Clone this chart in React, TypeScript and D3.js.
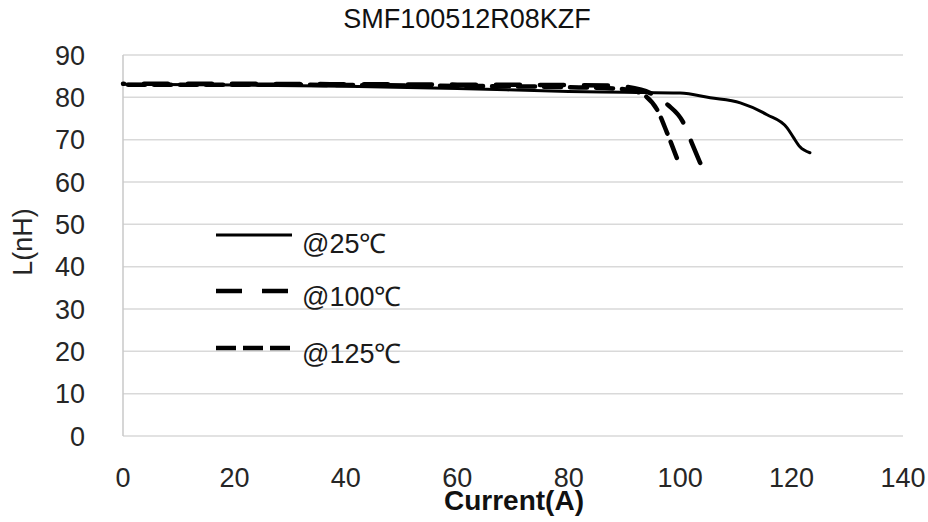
import React, { useEffect, useRef } from "react";
import * as d3 from "d3";

const title = "SMF100512R08KZF";
const xTicks = [0, 20, 40, 60, 80, 100, 120, 140];
const yTicks = [0, 10, 20, 30, 40, 50, 60, 70, 80, 90];

const curve25: [number, number][] = [
  [0, 83.1], [20, 82.9], [40, 82.6], [60, 82.1], [80, 81.4], [90, 81.2], [100, 81.0],
  [105.4, 79.9], [110.8, 78.7], [115.6, 75.9], [119.2, 72.8], [120.3, 70.6],
  [121.5, 68.3], [123.3, 66.9],
];
const curve100: [number, number][] = [
  [0, 83.2], [20, 83.2], [40, 83.1], [60, 83.0], [80, 82.9], [87, 82.8], [93, 81.8],
  [95.5, 80.4], [97.8, 78.2], [100.5, 74.2], [102.1, 69.2], [103.6, 64.5],
];
const curve125: [number, number][] = [
  [0, 83.0], [20, 83.0], [40, 82.9], [60, 82.7], [80, 82.4], [88, 82.1], [92, 81.4],
  [93.7, 80.4], [95.9, 77.0], [97.6, 71.8], [99.4, 65.7],
];

const seriesNames = ["@25℃", "@100℃", "@125℃"];
const seriesDash = [null, [24, 20], [17, 9]];
const legendDash = ["", "26 20", "20 7"];
const seriesWidth = [3, 4.5, 4.5];

const W = 928;
const H = 522;
const left = 123;
const right = 903;
const top = 55;
const bottom = 436;

export default function App() {
  const pathRefs = useRef<(SVGPathElement | null)[]>([]);
  const x = d3.scaleLinear().domain([0, 140]).range([left, right]);
  const y = d3.scaleLinear().domain([0, 90]).range([bottom, top]);
  const line = d3
    .line<[number, number]>()
    .x((d) => x(d[0]))
    .y((d) => y(d[1]))
    .curve(d3.curveMonotoneX);
  const series = [curve25, curve100, curve125];
  const font = "Arial, 'Liberation Sans', sans-serif";
  const legendY = [235, 291, 348];
  const legendTextY = [253, 306, 363];

  useEffect(() => {
    pathRefs.current.forEach((p, i) => {
      const dash = seriesDash[i];
      if (!p || !dash) return;
      const L = p.getTotalLength();
      const P = dash[0] + dash[1];
      const d = (((dash[0] - L) % P) + P) % P;
      p.setAttribute("stroke-dashoffset", String(d));
    });
  }, []);

  return (
    <svg
      width={W}
      height={H}
      style={{ position: "absolute", left: 0, top: 0, background: "#fff" }}
      fontFamily={font}
    >
      <text x={467} y={28} textAnchor="middle" fontSize={27} fill="#111">
        {title}
      </text>
      {yTicks.map((t) => (
        <g key={t}>
          <line
            x1={left}
            x2={right}
            y1={y(t)}
            y2={y(t)}
            stroke="#d9d9d9"
            strokeWidth={1.5}
          />
          <text
            x={85}
            y={y(t)}
            dy="0.36em"
            textAnchor="end"
            fontSize={27}
            fill="#262626"
          >
            {t}
          </text>
        </g>
      ))}
      <line x1={left} x2={left} y1={top} y2={bottom} stroke="#c8c8c8" strokeWidth={1.5} />
      {xTicks.map((t) => (
        <text
          key={t}
          x={x(t)}
          y={487}
          textAnchor="middle"
          fontSize={27}
          fill="#262626"
        >
          {t}
        </text>
      ))}
      <text x={514} y={510} textAnchor="middle" fontSize={28} fontWeight="bold" fill="#111">
        Current(A)
      </text>
      <text
        transform={`translate(32,242) rotate(-90)`}
        textAnchor="middle"
        fontSize={27}
        fill="#262626"
      >
        L(nH)
      </text>
      {series.map((s, i) => (
        <path
          key={i}
          ref={(el) => {
            pathRefs.current[i] = el;
          }}
          d={line(s) || ""}
          fill="none"
          stroke="#000"
          strokeWidth={seriesWidth[i]}
          strokeDasharray={seriesDash[i] ? seriesDash[i]!.join(" ") : undefined}
          strokeLinecap="round"
          strokeLinejoin="round"
        />
      ))}
      {seriesNames.map((n, i) => (
        <g key={n}>
          <line
            x1={216}
            x2={292}
            y1={legendY[i]}
            y2={legendY[i]}
            stroke="#000"
            strokeWidth={seriesWidth[i]}
            strokeDasharray={legendDash[i] || undefined}
          />
          <text x={302} y={legendTextY[i]} fontSize={27} fill="#1a1a1a">
            {n}
          </text>
        </g>
      ))}
    </svg>
  );
}
